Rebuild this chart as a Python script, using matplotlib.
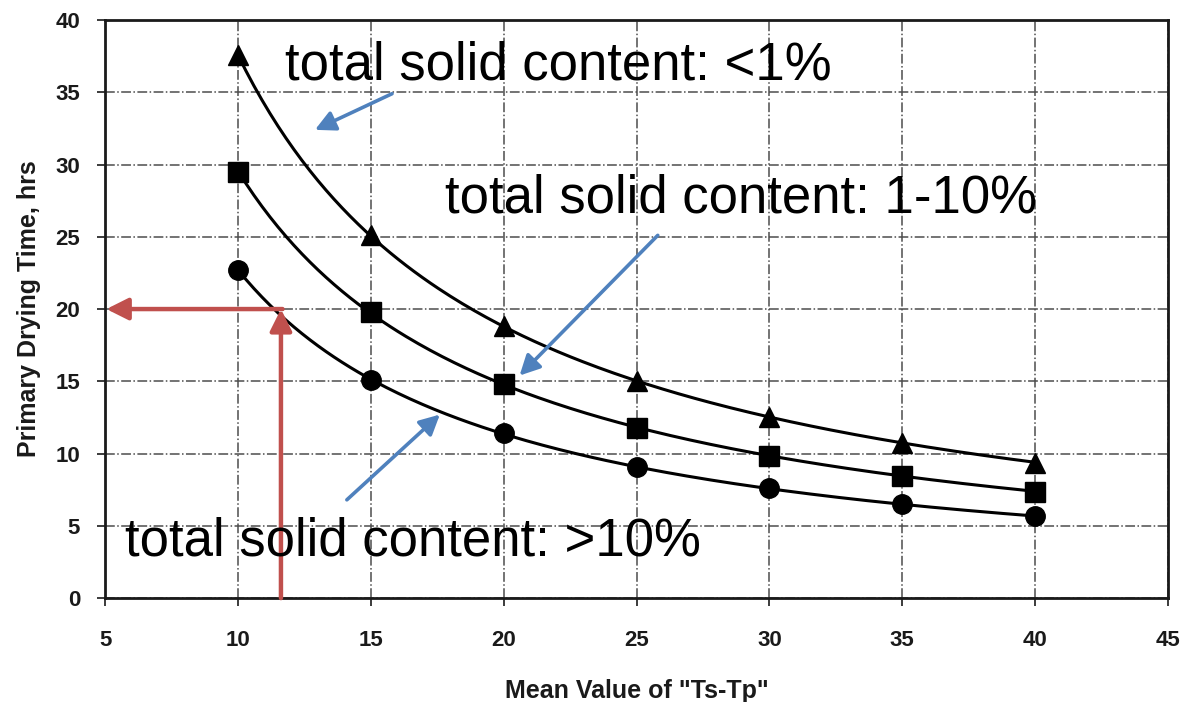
import numpy as np
import matplotlib.pyplot as plt

# data
ts_tp = [10, 15, 20, 25, 30, 35, 40]
tsc_lt1 = [37.6, 25.1, 18.8, 15.0, 12.5, 10.7, 9.35]
tsc_1_10 = [29.5, 19.8, 14.8, 11.8, 9.85, 8.45, 7.35]
tsc_gt10 = [22.7, 15.1, 11.4, 9.1, 7.6, 6.5, 5.7]

x_ticks = [5, 10, 15, 20, 25, 30, 35, 40, 45]
y_ticks = [0, 5, 10, 15, 20, 25, 30, 35, 40]

plt.rcParams['font.family'] = ['Liberation Sans', 'DejaVu Sans']

fig = plt.figure(figsize=(11.84, 7.02), dpi=100)
ax = fig.add_axes([0.0887, 0.148, 0.8978, 0.8235])

x = np.array(ts_tp, dtype=float)
xs = np.linspace(10, 40, 200)
for ys, marker in [(tsc_lt1, '^'), (tsc_1_10, 's'), (tsc_gt10, 'o')]:
    ys = np.array(ys)
    # least squares fit of y = k/x for the smooth trend line
    k = np.sum(ys / x) / np.sum(1 / x**2)
    ax.plot(xs, k / xs, color='black', lw=2.2, zorder=3)
    ax.plot(x, ys, linestyle='none', marker=marker, color='black', ms=14, zorder=4)

ax.set_xlim(5, 45)
ax.set_ylim(0, 40)
ax.set_xticks(x_ticks)
ax.set_yticks(y_ticks)
ax.tick_params(direction='out', length=6, width=1.2, labelsize=16, pad=12, colors='#1a1a1a')
ax.tick_params(axis='x', pad=17)
for lab in ax.get_xticklabels() + ax.get_yticklabels():
    lab.set_fontweight('bold')
ax.grid(True, linestyle='-.', color='0.3', lw=1.1, zorder=1)
for sp in ax.spines.values():
    sp.set_linewidth(2)
    sp.set_color('#1a1a1a')

ax.set_xlabel('Mean Value of "Ts-Tp"', fontsize=18, fontweight='bold', labelpad=20, color='#1a1a1a')
ax.set_ylabel('Primary Drying Time, hrs', fontsize=18, fontweight='bold', labelpad=10, color='#1a1a1a')

# red reading arrows
red = '#C0504D'
red_style = '-|>,head_length=0.6,head_width=0.3'
ax.annotate('', xy=(11.62, 20.0), xytext=(11.62, 0),
            arrowprops=dict(arrowstyle=red_style, color=red, lw=3.2, mutation_scale=22, shrinkA=0, shrinkB=0),
            zorder=5)
ax.annotate('', xy=(5.05, 20.0), xytext=(11.68, 20.0),
            arrowprops=dict(arrowstyle=red_style, color=red, lw=3.2, mutation_scale=22, shrinkA=0, shrinkB=0),
            zorder=5)

# blue pointer arrows
blue = '#4F81BD'
for tail, head in [((15.8, 34.9), (12.9, 32.4)),
                   ((25.8, 25.1), (20.6, 15.4)),
                   ((14.1, 6.8), (17.6, 12.7))]:
    ax.annotate('', xy=head, xytext=tail,
                arrowprops=dict(arrowstyle='-|>,head_length=0.55,head_width=0.28', color=blue, lw=2.6,
                                mutation_scale=22, shrinkA=0, shrinkB=0),
                zorder=5)

txt = dict(fontsize=38, color='black', va='baseline', ha='left', zorder=6)
ax.text(11.77, 35.85, 'total solid content: <1%', **txt)
ax.text(17.79, 26.7, 'total solid content: 1-10%', **txt)
ax.text(5.75, 2.98, 'total solid content: >10%', **txt)

fig.savefig('out.png', dpi=100)
